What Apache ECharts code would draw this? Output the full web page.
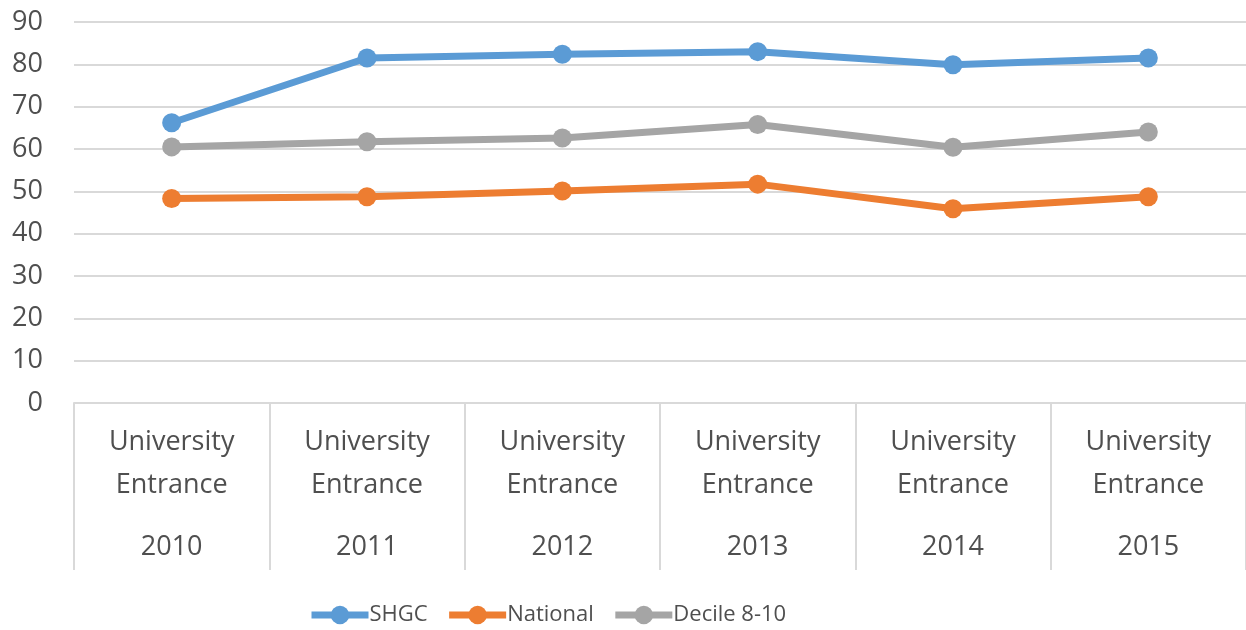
<!DOCTYPE html>
<html>
<head>
<meta charset="utf-8">
<script src="https://cdn.jsdelivr.net/npm/echarts@6/dist/echarts.min.js"></script>
<style>html,body{margin:0;padding:0;background:#fff}#c{width:1246px;height:630px}</style>
</head>
<body>
<div id="c"></div>
<script>
const years = ['2010', '2011', '2012', '2013', '2014', '2015'];
const categoryLabel = 'University\nEntrance';
const shgc = [66.2, 81.5, 82.4, 83.0, 79.9, 81.5];
const national = [48.3, 48.7, 50.1, 51.7, 45.9, 48.7];
const decile = [60.5, 61.7, 62.6, 65.8, 60.4, 64.0];
const yTicks = { min: 0, max: 90, interval: 10 };

const font = '"Open Sans", "Liberation Sans", sans-serif';
const txt = '#4f4f4f';
const chart = echarts.init(document.getElementById('c'), null, { renderer: 'canvas' });
function mk(name, data, color) {
  return {
    name, type: 'line', data,
    symbol: 'circle', symbolSize: 19,
    lineStyle: { width: 7, color },
    itemStyle: { color },
    emphasis: { disabled: true },
    animation: false
  };
}
chart.setOption({
  animation: false,
  grid: { left: 74, top: 22, width: 1177, bottom: 227 },
  legend: {
    top: 604, left: 308, padding: 0,
    itemWidth: 57, itemHeight: 23, itemGap: 18,
    lineStyle: { width: 7 },
    textStyle: { fontFamily: font, fontSize: 22, color: txt, padding: [0, 0, 0, -4] },
    data: ['SHGC', 'National', 'Decile 8-10']
  },
  xAxis: {
    type: 'category', data: years, boundaryGap: true,
    axisLine: { lineStyle: { color: '#d9d9d9', width: 2 } },
    axisTick: { show: true, length: 167, lineStyle: { color: '#d9d9d9', width: 2 } },
    axisLabel: {
      margin: 18,
      formatter: v => categoryLabel.split('\n').map(s => '{a|' + s + '}').join('\n') + '\n{b|' + v + '}',
      rich: {
        a: { fontFamily: font, fontSize: 27, color: txt, lineHeight: 43 },
        b: { fontFamily: font, fontSize: 27, color: txt, lineHeight: 81 }
      }
    }
  },
  yAxis: {
    type: 'value', min: yTicks.min, max: yTicks.max, interval: yTicks.interval,
    axisLine: { show: false }, axisTick: { show: false },
    splitLine: { lineStyle: { color: '#d9d9d9', width: 2 } },
    axisLabel: { fontFamily: font, fontSize: 27, color: txt, margin: 31 }
  },
  series: [
    mk('SHGC', shgc, '#5b9bd5'),
    mk('National', national, '#ed7d31'),
    mk('Decile 8-10', decile, '#a5a5a5')
  ]
});
</script>
</body>
</html>
